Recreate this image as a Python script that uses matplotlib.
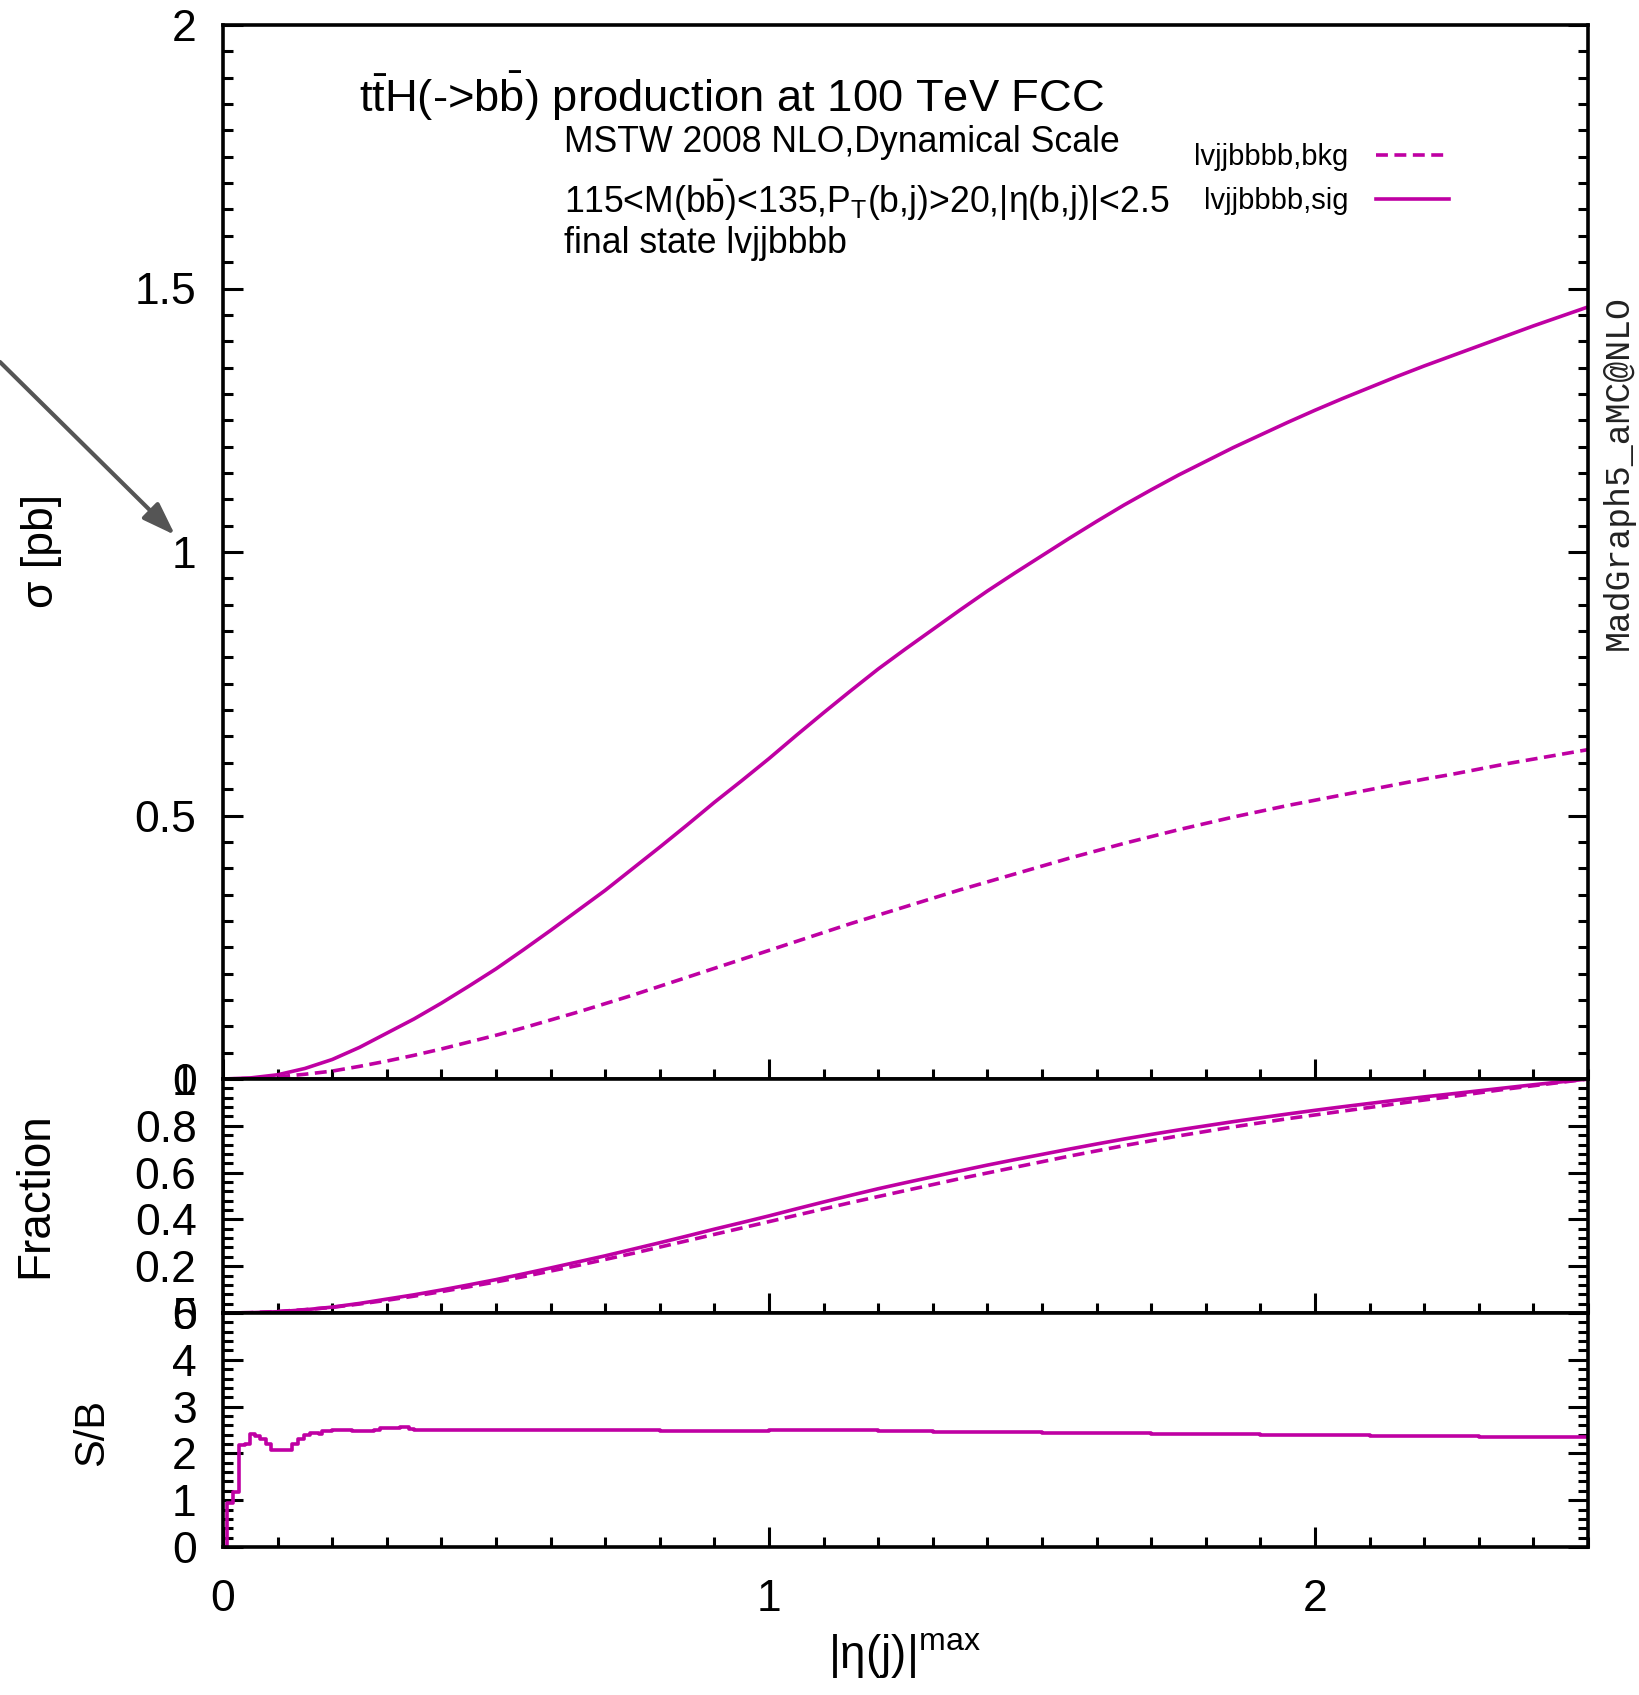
import numpy as np
import matplotlib
matplotlib.use("Agg")
import matplotlib.pyplot as plt
from matplotlib.lines import Line2D
from matplotlib.ticker import MultipleLocator, FuncFormatter

plt.rcParams['font.family'] = ['Liberation Sans', 'DejaVu Sans']
plt.rcParams['mathtext.default'] = 'regular'
plt.rcParams['mathtext.fontset'] = 'custom'
plt.rcParams['mathtext.rm'] = 'Liberation Sans'
plt.rcParams['mathtext.it'] = 'Liberation Sans'
plt.rcParams['mathtext.sf'] = 'Liberation Sans'

# cumulative cross sections vs |eta(j)|max cut, sampled every 0.05
eta = np.round(np.arange(0.0, 2.5001, 0.05), 2)
sigma_bkg = [0.000, 0.001, 0.004, 0.009, 0.015, 0.024, 0.034, 0.045, 0.057, 0.070,
             0.083, 0.097, 0.112, 0.127, 0.143, 0.159, 0.176, 0.193, 0.210, 0.227,
             0.244, 0.261, 0.278, 0.295, 0.311, 0.327, 0.343, 0.359, 0.374, 0.389,
             0.404, 0.419, 0.433, 0.447, 0.460, 0.473, 0.485, 0.497, 0.508, 0.519,
             0.529, 0.539, 0.549, 0.559, 0.569, 0.578, 0.588, 0.598, 0.607, 0.616,
             0.625]
sigma_sig = [0.000, 0.002, 0.008, 0.020, 0.037, 0.060, 0.087, 0.114, 0.144, 0.176,
             0.209, 0.245, 0.282, 0.320, 0.358, 0.399, 0.440, 0.482, 0.525, 0.566,
             0.608, 0.652, 0.695, 0.737, 0.778, 0.816, 0.853, 0.890, 0.926, 0.960,
             0.993, 1.026, 1.058, 1.089, 1.118, 1.146, 1.172, 1.198, 1.222, 1.246,
             1.269, 1.291, 1.312, 1.333, 1.353, 1.372, 1.391, 1.410, 1.429, 1.447,
             1.465]

# S/B histogram: left bin edges and values
sb_edges = [0.000, 0.007, 0.019, 0.029, 0.040, 0.050, 0.059, 0.068, 0.078, 0.088,
            0.126, 0.138, 0.149, 0.160, 0.175, 0.181, 0.200, 0.221, 0.236, 0.276,
            0.288, 0.325, 0.340, 0.349, 0.373, 0.420, 0.500, 0.600, 0.700, 0.800,
            0.900, 1.000, 1.100, 1.200, 1.300, 1.400, 1.500, 1.600, 1.700, 1.800,
            1.900, 2.000, 2.100, 2.200, 2.300, 2.400, 2.500]
sb_values = [0.00, 0.95, 1.18, 2.17, 2.20, 2.41, 2.37, 2.30, 2.20, 2.07,
             2.20, 2.30, 2.40, 2.44, 2.42, 2.47, 2.50, 2.51, 2.47, 2.50,
             2.54, 2.56, 2.53, 2.49, 2.51, 2.49, 2.50, 2.51, 2.49, 2.48,
             2.48, 2.49, 2.50, 2.48, 2.46, 2.45, 2.44, 2.43, 2.42, 2.41,
             2.40, 2.39, 2.38, 2.37, 2.36, 2.35, 2.35]

color = '#bf00a3'
lw = 2.6
dash = (3.3, 1.8)

W, H = 1640, 1695
fig = plt.figure(figsize=(W / 100, H / 100), dpi=100)

def px_axes(left, right, top, bottom):
    return [left / W, 1 - bottom / H, (right - left) / W, (bottom - top) / H]

ax1 = fig.add_axes(px_axes(223, 1588, 25, 1079))
ax2 = fig.add_axes(px_axes(223, 1588, 1079, 1313))
ax3 = fig.add_axes(px_axes(223, 1588, 1313, 1547))

fmt = FuncFormatter(lambda v, p: '%g' % v)
for ax in (ax1, ax2, ax3):
    ax.set_xlim(0, 2.5)
    ax.xaxis.set_major_locator(MultipleLocator(1))
    ax.xaxis.set_minor_locator(MultipleLocator(0.1))
    ax.tick_params(which='both', direction='in', top=False, right=True,
                   width=2.2, labelsize=32, color='black')
    ax.tick_params(which='major', length=14.5)
    ax.tick_params(which='minor', length=7)
    ax.tick_params(axis='y', pad=19)
    ax.tick_params(axis='x', pad=23)
    ax.yaxis.set_major_formatter(fmt)
    ax.xaxis.set_major_formatter(fmt)
    for s in ax.spines.values():
        s.set_linewidth(2.6)
for ax in (ax1, ax2):
    ax.tick_params(axis='x', labelbottom=False)

# main panel
ax1.set_ylim(0, 2)
ax1.yaxis.set_major_locator(MultipleLocator(0.5))
ax1.yaxis.set_minor_locator(MultipleLocator(0.05))
ax1.plot(eta, sigma_bkg, color=color, lw=lw, dashes=dash)
ax1.plot(eta, sigma_sig, color=color, lw=lw)

ax1.text(0.0996, 0.9175,
         r"t$\bar{\rm t}$H(->b$\bar{\rm b}$) production at 100 TeV FCC",
         transform=ax1.transAxes, fontsize=32.7, va='baseline', ha='left')
ax1.text(0.2498, 0.8795, "MSTW 2008 NLO,Dynamical Scale",
         transform=ax1.transAxes, fontsize=25.7, va='baseline', ha='left')
ax1.text(0.2498, 0.822,
         r"115<M(b$\bar{\rm b}$)<135,P$_{\rm T}$(b,j)>20,|η(b,j)|<2.5",
         transform=ax1.transAxes, fontsize=25.7, va='baseline', ha='left')
ax1.text(0.2498, 0.784, "final state lvjjbbbb",
         transform=ax1.transAxes, fontsize=25.7, va='baseline', ha='left')

handles = [Line2D([], [], color=color, lw=lw, dashes=dash),
           Line2D([], [], color=color, lw=lw)]
ax1.legend(handles, ["lvjjbbbb,bkg", "lvjjbbbb,sig"], loc='upper right',
           bbox_to_anchor=(0.898, 0.888), bbox_transform=ax1.transAxes,
           frameon=False, markerfirst=False, fontsize=21, handlelength=2.5,
           handletextpad=0.95, labelspacing=0.56, borderpad=0, borderaxespad=0)

# fraction panel
frac_bkg = np.array(sigma_bkg) / sigma_bkg[-1]
frac_sig = np.array(sigma_sig) / sigma_sig[-1]
ax2.set_ylim(0, 1)
ax2.yaxis.set_major_locator(MultipleLocator(0.2))
ax2.yaxis.set_minor_locator(MultipleLocator(0.04))
ax2.plot(eta, frac_bkg, color=color, lw=lw, dashes=dash)
ax2.plot(eta, frac_sig, color=color, lw=lw)

# S/B panel
ax3.set_ylim(0, 5)
ax3.yaxis.set_major_locator(MultipleLocator(1))
ax3.yaxis.set_minor_locator(MultipleLocator(0.2))
ax3.step(sb_edges, sb_values, where='post', color=color, lw=lw)

# axis titles
fig.text(41 / W, 1 - 551 / H, "σ [pb]", rotation=90, fontsize=32,
         ha='center', va='center')
fig.text(35 / W, 1 - 1195 / H, "Fraction", rotation=90, fontsize=33,
         ha='center', va='center')
fig.text(92 / W, 1 - 1432 / H, "S/B", rotation=90, fontsize=30,
         ha='center', va='center')
fig.text(904 / W, 1 - 1655 / H, r"$|\eta(j)|^{\rm max}$", fontsize=33,
         ha='center', va='center')
fig.text(1618 / W, 1 - 473 / H, "MadGraph5_aMC@NLO", rotation=90,
         fontsize=25, family='Liberation Mono', color='#222222',
         ha='center', va='center')

# pointer arrow
ax1.annotate('', xy=(175, H - 535), xytext=(0, H - 362),
             xycoords='figure pixels', textcoords='figure pixels',
             annotation_clip=False,
             arrowprops=dict(arrowstyle='-|>,head_length=1.0,head_width=0.35',
                             mutation_scale=20, lw=3, color='#555555',
                             shrinkA=0, shrinkB=0))

fig.savefig("out.png", dpi=100)
